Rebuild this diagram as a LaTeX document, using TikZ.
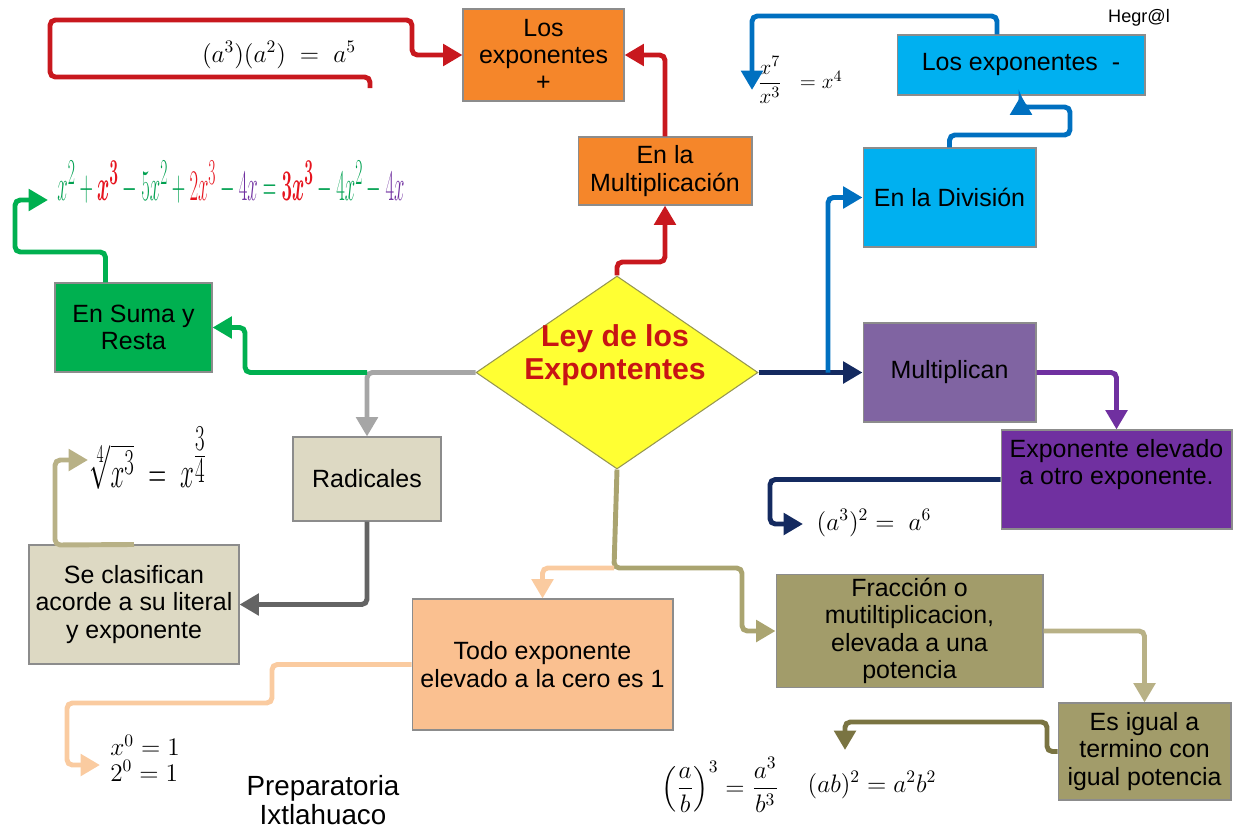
\documentclass[tikz,border=0pt]{standalone}
\usepackage[no-math]{fontspec}
\setmainfont{Liberation Sans}
\usepackage{amsmath}
\usetikzlibrary{shapes.geometric,arrows.meta,calc}
\definecolor{cred}{RGB}{200,24,30}
\definecolor{corange}{RGB}{245,134,42}
\definecolor{cblue}{RGB}{0,176,240}
\definecolor{cblueline}{RGB}{0,112,192}
\definecolor{cnavy}{RGB}{20,42,96}
\definecolor{cmult}{RGB}{128,100,162}
\definecolor{cpurple}{RGB}{112,48,160}
\definecolor{cgreen}{RGB}{0,176,80}
\definecolor{cbeige}{RGB}{221,217,195}
\definecolor{cgray}{RGB}{166,166,166}
\definecolor{cdgray}{RGB}{100,100,100}
\definecolor{ckhaki}{RGB}{184,177,134}
\definecolor{colive}{RGB}{170,164,112}
\definecolor{cobox}{RGB}{162,156,106}
\definecolor{cdolive}{RGB}{122,116,66}
\definecolor{cpeach}{RGB}{250,192,144}
\definecolor{cpeachline}{RGB}{250,203,160}
\definecolor{cyel}{RGB}{255,255,51}
\definecolor{cdiam}{RGB}{150,150,80}
\definecolor{ctitle}{RGB}{200,20,20}
\definecolor{fgreen}{RGB}{0,160,80}
\definecolor{fred}{RGB}{230,20,30}
\definecolor{fpurple}{RGB}{112,48,160}
\newcommand\boxfont{\fontsize{14.2}{15.5}\selectfont}
\newcommand\fmfont{\fontsize{14}{14}\selectfont}
\begin{document}
\begin{tikzpicture}[x=0.02cm,y=-0.02cm,
  box/.style={draw=black!45, line width=0.6pt, inner sep=2pt, align=center, font=\boxfont, text=black},
  con/.style={line width=2.8pt, rounded corners=3pt, -{Triangle[length=11pt,width=12pt]}},
  fm/.style={inner sep=0pt, font=\fmfont}]
\useasboundingbox (0,0) rectangle (1239,832);
% nodes
\node[box, fill=corange, minimum width=3.22cm, minimum height=1.84cm] (plus) at (543.5,55) {Los\\exponentes\\+};
\node[box, fill=corange, minimum width=3.48cm, minimum height=1.36cm] (mult) at (665,171) {En la\\Multiplicación};
\node[box, fill=cblue, minimum width=4.96cm, minimum height=1.2cm] (minus) at (1021,65) {Los exponentes\ \ -};
\node[box, fill=cblue, minimum width=3.46cm, minimum height=1.98cm] (div) at (949.5,197.5) {En la División};
\node[box, fill=cmult, minimum width=3.46cm, minimum height=1.98cm] (mltp) at (949.5,372.5) {Multiplican};
\node[box, fill=cpurple, minimum width=4.62cm, minimum height=1.98cm] (expo) at (1116.5,479.5) {Exponente elevado\\a otro exponente.\\\strut};
\node[box, fill=cgreen, minimum width=3.14cm, minimum height=1.78cm] (suma) at (133.5,327.5) {En Suma y\\Resta};
\node[box, fill=cbeige, minimum width=2.96cm, minimum height=1.68cm] (rad) at (367,479) {Radicales};
\node[box, fill=cbeige, minimum width=4.2cm, minimum height=2.38cm] (clas) at (134,604.5) {Se clasifican\\acorde a su literal\\y exponente};
\node[box, fill=cpeach, minimum width=5.22cm, minimum height=2.62cm] (todo) at (542.5,664.5) {Todo exponente\\elevado a la cero es 1};
\node[box, fill=cobox, minimum width=5.34cm, minimum height=1.96cm] (frac) at (909.5,631) {Fracción o\\mutiltiplicacion,\\elevada a una\\potencia};
\node[box, fill=cobox, minimum width=3.46cm, minimum height=1.94cm] (igual) at (1144.5,751.5) {Es igual a\\termino con\\igual potencia};
\node[diamond, draw=cdiam, line width=0.6pt, fill=cyel, minimum width=5.64cm, minimum height=3.86cm, inner sep=0pt] (ley) at (617,372.5) {};
\node[align=center, text=ctitle, font=\fontsize{17.2}{18.8}\selectfont\bfseries] (leytxt) at (615,355) {Ley de los\\Expontentes};
% formulas and texts
\node[fm] (f1) at (279,55) {$(a^3)(a^2)\;=\;a^5$};
\node[fm, font=\fontsize{12.5}{13}\selectfont] (f2) at (800,80) {$\dfrac{x^7}{x^3}\;\;= x^4$};
\node[fm, font=\fontsize{32}{32}\selectfont] (f3) at (231,183) {\scalebox{0.427}[1]{$\color{fgreen}x^2\mathbin{\color{fgreen}+}{\color{fred}\boldsymbol{x}^{\mathbf 3}}-{\color{fgreen}5x^2}+{\color{fred}2x^3}-{\color{fpurple}4x}={\color{fred}\mathbf{3}\boldsymbol{x}^{\mathbf 3}}-4{\color{fgreen}x^2}-{\color{fpurple}4x}$}};
\node[fm, font=\fontsize{30}{30}\selectfont] (f4) at (148,458) {\scalebox{0.57}[1]{$\sqrt[4]{x^3}\;=\;x^{\tfrac{3}{4}}$}};
\node[fm] (f5) at (874,523) {$(a^3)^2 =\; a^6$};
\node[fm, align=left, font=\fontsize{14}{14.5}\selectfont] (f6) at (145,758) {$x^0=1$\\$2^0=1$};
\node[fm] (f7) at (720,785) {$\left(\dfrac{a}{b}\right)^3=\dfrac{a^3}{b^3}$};
\node[fm] (f8) at (872,785) {$(ab)^2=a^2b^2$};
\node[font=\fontsize{10.3}{12}\selectfont] (hegr) at (1139,18) {Hegr@l};
\node[align=center, font=\fontsize{15.8}{17}\selectfont] (prep) at (323,800) {Preparatoria\\Ixtlahuaco};
% free ends
\coordinate (r0) at (370,88);
\coordinate (e1) at (752,90);
\coordinate (e2) at (803,524);
\coordinate (e3) at (48,200);
\coordinate (e4) at (88,460);
\coordinate (e5) at (100,765);
\coordinate (e6) at (845,750);
\coordinate (j1) at (828,372.5);
\coordinate (j2) at (367,372.5);
\coordinate (j3) at (614,568);
% connectors
\draw[con, cred] (ley.north) -- (617,262) -- (665,262) -- (mult.south);
\draw[con, cred] (mult.north) |- (plus.east);
\draw[con, cred] (r0) -- (370,77) -- (50,77) -- (50,20) -- (412,20) -- (412,55) -- (plus.west);
\draw[con, cblueline] (div.north) -- (949.5,135) -- (1070,135) -- (1070,107) -- (1021,107) -- (minus.south);
\draw[con, cblueline] ($(minus.north)+(-24,0)$) -- (997,16) -- (752,16) -- (e1);
\draw[con, cnavy] (ley.east) -- (mltp.west);
\draw[con, cblueline] (j1) |- (div.west);
\draw[con, cpurple] (mltp.east) -| (expo.north);
\draw[con, cnavy] (expo.west) -- (770,479.5) -- (770,524) -- (e2);
\draw[con, cgray] (ley.west) -| (rad.north);
\draw[con, cgreen] (j2) -- (245,372.5) -- (245,327.5) -- (suma.east);
\draw[con, cgreen] ($(suma.north)+(-28,0)$) -- (105.5,252) -- (15,252) -- (15,200) -- (e3);
\draw[con, cdgray] (rad.south) |- (clas.east);
\draw[con, ckhaki] (clas.north) -- (55,545) -- (55,460) -- (e4);
\draw[con, colive] (ley.south) -- (j3) -- (742,568) -- (742,631) -- (frac.west);
\draw[con, cpeachline] (j3) -- (542.5,568) -- (todo.north);
\draw[con, cpeachline] (todo.west) -- (272,664.5) -- (272,703) -- (67,703) -- (67,765) -- (e5);
\draw[con, ckhaki] (frac.east) -| (igual.north);
\draw[con, cdolive] (igual.west) -- (1047,751.5) -- (1047,722) -- (845,722) -- (e6);
\end{tikzpicture}
\end{document}
